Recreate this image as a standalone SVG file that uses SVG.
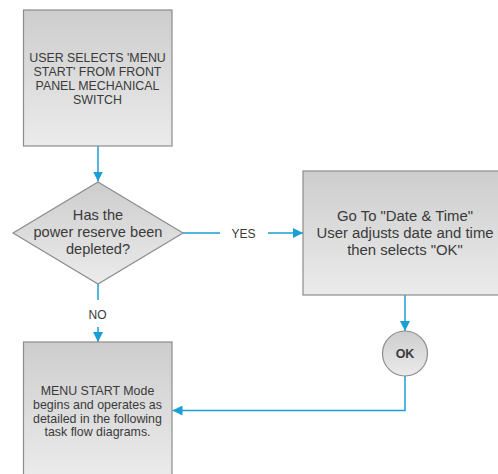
<svg xmlns="http://www.w3.org/2000/svg" width="498" height="474" viewBox="0 0 498 474">
  <defs>
    <linearGradient id="boxFill" x1="0" y1="0" x2="0" y2="1">
      <stop offset="0" stop-color="#cdcdcd"/>
      <stop offset="1" stop-color="#ebebeb"/>
    </linearGradient>
    <marker id="arrow" viewBox="0 0 10 10" refX="10" refY="5" markerWidth="10" markerHeight="10" markerUnits="userSpaceOnUse" orient="auto">
      <path d="M0,0 L10,5 L0,10 Z" fill="#1a9fd4"/>
    </marker>
    <style>
      .shape { fill: url(#boxFill); stroke: #8c8c8c; stroke-width: 1.2; }
      .conn { fill: none; stroke: #1a9fd4; stroke-width: 1.5; }
      .t { font-family: "Liberation Sans", Arial, sans-serif; fill: #3a3a3a; text-anchor: middle; }
      .small { font-size: 12.4px; }
      .big { font-size: 14.6px; }
      .wide { font-size: 14.9px; }
      .lbl { font-size: 12px; }
    </style>
  </defs>

  <rect width="498" height="474" fill="#ffffff"/>

  <!-- connectors -->
  <g id="connectors">
    <path class="conn" d="M98,146 V181.5" marker-end="url(#arrow)"/>
    <path class="conn" d="M183,233 H220"/>
    <path class="conn" d="M268,233 H303" marker-end="url(#arrow)"/>
    <path class="conn" d="M98,284 V300"/>
    <path class="conn" d="M98,327 V342" marker-end="url(#arrow)"/>
    <path class="conn" d="M405,295 V331" marker-end="url(#arrow)"/>
    <path class="conn" d="M405,376 V410.5 H172.5" marker-end="url(#arrow)"/>
    <text class="t lbl" x="243.5" y="237.5">YES</text>
    <text class="t lbl" x="97.5" y="318.5">NO</text>
  </g>

  <!-- start step -->
  <g id="start">
    <rect class="shape" x="23.5" y="10" width="148.5" height="136"/>
    <text class="t small" x="97.5" y="62">USER SELECTS 'MENU</text>
    <text class="t small" x="97.5" y="76">START' FROM FRONT</text>
    <text class="t small" x="97.5" y="90">PANEL MECHANICAL</text>
    <text class="t small" x="97.5" y="103.5">SWITCH</text>
  </g>

  <!-- decision -->
  <g id="decision">
    <polygon class="shape" points="98,182 183,233 98,284 13,233"/>
    <text class="t big" x="98" y="220">Has the</text>
    <text class="t big" x="98" y="237">power reserve been</text>
    <text class="t big" x="98" y="254">depleted?</text>
  </g>

  <!-- set date and time -->
  <g id="dateTime">
    <rect class="shape" x="303" y="171" width="205" height="124"/>
    <text class="t wide" x="405" y="221">Go To "Date &amp; Time"</text>
    <text class="t wide" x="405" y="238">User adjusts date and time</text>
    <text class="t wide" x="405" y="254.5">then selects "OK"</text>
  </g>

  <!-- OK button -->
  <g id="ok">
    <circle class="shape" cx="405" cy="353.5" r="22.5"/>
    <text class="t" x="405" y="358" font-size="12.5" font-weight="bold" fill="#333333">OK</text>
  </g>

  <!-- menu start mode -->
  <g id="menuStart">
    <rect class="shape" x="23.5" y="342" width="148.5" height="136"/>
    <text class="t small" x="97.5" y="395">MENU START Mode</text>
    <text class="t small" x="97.5" y="408.5">begins and operates as</text>
    <text class="t small" x="97.5" y="422.5">detailed in the following</text>
    <text class="t small" x="97.5" y="436">task flow diagrams.</text>
  </g>
</svg>
